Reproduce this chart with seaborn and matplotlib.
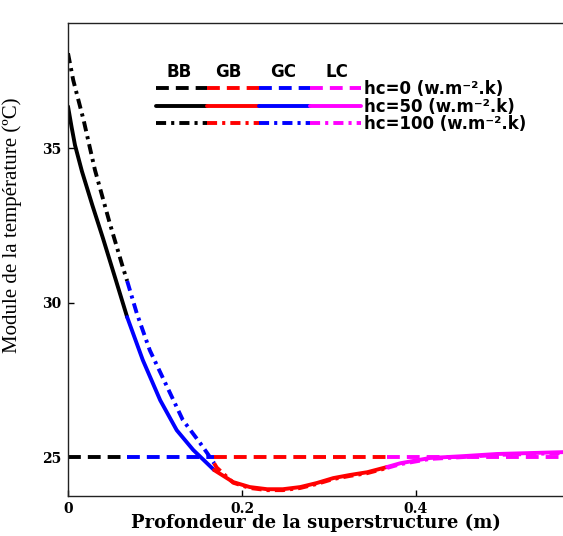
import numpy as np
import pandas as pd
import matplotlib
matplotlib.use("Agg")
import matplotlib.pyplot as plt
from matplotlib.lines import Line2D
from matplotlib.legend_handler import HandlerTuple
import seaborn as sns

# zones of the superstructure, in legend order, and their colours
zones = ["BB", "GB", "GC", "LC"]
zone_colors = {"BB": "black", "GB": "red", "GC": "blue", "LC": "magenta"}
# zones along the depth and the depths where they change (m)
zone_order = ["BB", "GC", "GB", "LC"]
zone_limits = [0.0, 0.068, 0.168, 0.367, 0.569]

hc_labels = ["hc=0 (w.m⁻².k)", "hc=50 (w.m⁻².k)", "hc=100 (w.m⁻².k)"]

# hc = 0 : temperature stays at 25 C
depth_hc0 = [0.0, 0.068, 0.168, 0.367, 0.569]
temp_hc0 = [25.0, 25.0, 25.0, 25.0, 25.0]

# hc = 50
depth_hc50 = [0.0, 0.004, 0.008, 0.016, 0.028, 0.040, 0.054, 0.068, 0.086, 0.106,
              0.125, 0.144, 0.168, 0.190, 0.209, 0.229, 0.247, 0.267, 0.286, 0.305,
              0.324, 0.344, 0.367, 0.382, 0.416, 0.454, 0.493, 0.531, 0.569]
temp_hc50 = [36.35, 35.7, 35.1, 34.25, 33.15, 32.1, 30.82, 29.53, 28.14, 26.84,
             25.87, 25.23, 24.58, 24.19, 24.03, 23.96, 23.96, 24.03, 24.16, 24.32,
             24.42, 24.51, 24.68, 24.8, 24.97, 25.03, 25.1, 25.13, 25.16]

# hc = 100
depth_hc100 = [0.0, 0.006, 0.012, 0.018, 0.025, 0.031, 0.048, 0.063, 0.068, 0.079,
               0.094, 0.114, 0.132, 0.152, 0.160, 0.168, 0.171, 0.190, 0.209, 0.229,
               0.247, 0.267, 0.286, 0.305, 0.324, 0.344, 0.367, 0.382, 0.416, 0.454,
               0.493, 0.531, 0.569]
temp_hc100 = [38.07, 37.2, 36.55, 35.9, 35.03, 34.29, 32.57, 31.15, 30.7, 29.66,
              28.46, 27.27, 26.2, 25.45, 25.13, 24.8, 24.66, 24.17, 24.0, 23.93,
              23.93, 24.0, 24.13, 24.29, 24.39, 24.48, 24.65, 24.77, 24.94, 25.0,
              25.07, 25.1, 25.13]

curves = {"0": (depth_hc0, temp_hc0),
          "50": (depth_hc50, temp_hc50),
          "100": (depth_hc100, temp_hc100)}

# split every curve into the zones (boundary points go in both zones)
rows = []
for hc, (depth, temp) in curves.items():
    for i, zone in enumerate(zone_order):
        lo, hi = zone_limits[i], zone_limits[i + 1]
        for d, t in zip(depth, temp):
            if lo - 1e-9 <= d <= hi + 1e-9:
                rows.append({"depth": d, "temp": t, "hc": hc, "zone": zone})
df = pd.DataFrame(rows)

sns.set_style("ticks")
plt.rcParams["font.family"] = ["Liberation Serif", "DejaVu Serif"]
plt.rcParams["text.color"] = "black"
plt.rcParams["axes.labelcolor"] = "black"
plt.rcParams["xtick.color"] = "black"
plt.rcParams["ytick.color"] = "black"

lw = 2.8
dash_styles = {"0": (3.3, 1.8), "50": "", "100": (2.6, 1.3, 0.8, 1.3)}

fig = plt.figure(figsize=(5.63, 5.36), dpi=100)
ax = fig.add_axes([0.1208, 0.0746, 0.879, 0.8825])

sns.lineplot(data=df, x="depth", y="temp", hue="zone", style="hc",
             units="hc", estimator=None, sort=False,
             palette=zone_colors, dashes=dash_styles, linewidth=lw,
             legend=False, ax=ax)

ax.set_xlim(0, 0.569)
ax.set_ylim(23.74, 39.05)
ax.set_xticks([0, 0.2, 0.4])
ax.set_xticklabels(["0", "0.2", "0.4"])
ax.set_yticks([25, 30, 35])
ax.tick_params(direction="in", length=4, width=1, labelsize=10, pad=5)
ax.tick_params(axis="x", pad=4)
for lab in ax.get_xticklabels() + ax.get_yticklabels():
    lab.set_fontweight("bold")
    lab.set_family("DejaVu Serif")
ax.spines["right"].set_visible(False)
for s in ["left", "bottom", "top"]:
    ax.spines[s].set_linewidth(1.0)
    ax.spines[s].set_color("#222222")

ax.set_xlabel("Profondeur de la superstructure (m)", fontsize=13,
              fontweight="bold", family="DejaVu Serif", labelpad=-1)
ax.set_ylabel("Module de la température (ºC)", fontsize=15)
ax.yaxis.set_label_coords(-0.093, 0.573)

# legend: one handle per hc, split in the four zone colours
handles = []
for hc in ["0", "50", "100"]:
    parts = []
    for zone in zones:
        ls = "-" if dash_styles[hc] == "" else (0, dash_styles[hc])
        parts.append(Line2D([], [], color=zone_colors[zone], lw=lw, linestyle=ls))
    handles.append(tuple(parts))

leg = ax.legend(handles, hc_labels, handler_map={tuple: HandlerTuple(ndivide=None, pad=0)},
                loc="upper left", bbox_to_anchor=(0.178, 0.879), frameon=False,
                borderpad=0, borderaxespad=0, handlelength=12.3, handletextpad=0.2,
                labelspacing=-0.04, prop={"family": "DejaVu Sans", "weight": "bold", "size": 12})

zone_x = [0.224, 0.323, 0.434, 0.543]
for zx, zone in zip(zone_x, zones):
    ax.text(zx, 0.896, zone, transform=ax.transAxes, ha="center", va="center",
            fontsize=12, fontweight="bold", family="DejaVu Sans")

fig.savefig("out.png", dpi=100)
